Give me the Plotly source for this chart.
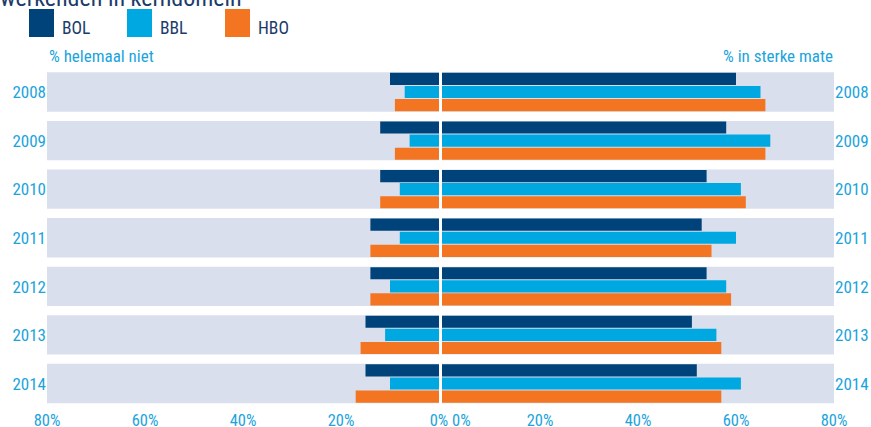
import plotly.graph_objects as go

# data
years = ["2008", "2009", "2010", "2011", "2012", "2013", "2014"]
series = ["BOL", "BBL", "HBO"]

# % helemaal niet (left side)
niet_bol = [10, 12, 12, 14, 14, 15, 15]
niet_bbl = [7, 6, 8, 8, 10, 11, 10]
niet_hbo = [9, 9, 12, 14, 14, 16, 17]

# % in sterke mate (right side)
sterk_bol = [60, 58, 54, 53, 54, 51, 52]
sterk_bbl = [65, 67, 61, 60, 58, 56, 61]
sterk_hbo = [66, 66, 62, 55, 59, 57, 57]

axis_max = 80
tick_vals = [0, 20, 40, 60, 80]
tick_text = ["0%", "20%", "40%", "60%", "80%"]

colors = {"BOL": "#00427a", "BBL": "#00a8e2", "HBO": "#f47521"}
panel_gray = "#d9dfec"
label_blue = "#1ba4dc"
navy = "#1d3b6a"
FONT = ("Roboto Condensed, DejaVu Sans Condensed, Liberation Sans Narrow, "
        "Arial Narrow, Liberation Sans, sans-serif")

W, H = 871, 427
offsets = {"BOL": -0.40, "BBL": -0.13, "HBO": 0.14}
bar_w = 0.25

fig = go.Figure()

for xa, ya in (("x", "y"), ("x2", "y2")):
    fig.add_trace(go.Bar(
        y=years, x=[axis_max] * len(years), orientation="h",
        marker=dict(color=panel_gray, line=dict(width=0)),
        offset=-0.41, width=0.81, xaxis=xa, yaxis=ya,
        showlegend=False, hoverinfo="skip"))

left = {"BOL": niet_bol, "BBL": niet_bbl, "HBO": niet_hbo}
right = {"BOL": sterk_bol, "BBL": sterk_bbl, "HBO": sterk_hbo}
for s in series:
    fig.add_trace(go.Bar(
        y=years, x=left[s], orientation="h", name=s,
        marker=dict(color=colors[s], line=dict(width=0)),
        offset=offsets[s], width=bar_w, xaxis="x", yaxis="y",
        showlegend=False))
    fig.add_trace(go.Bar(
        y=years, x=right[s], orientation="h", name=s,
        marker=dict(color=colors[s], line=dict(width=0)),
        offset=offsets[s], width=bar_w, xaxis="x2", yaxis="y2",
        showlegend=False))

left_dom = [47 / W, 439 / W]
right_dom = [442 / W, 834 / W]

tick_font = dict(family=FONT, size=16.5, color=label_blue)
xcommon = dict(showgrid=False, zeroline=False, showline=False, ticks="",
               tickfont=tick_font, fixedrange=True)
ycommon = dict(type="category", categoryorder="array", categoryarray=years,
               range=[6.5, -0.5], showgrid=False, zeroline=False,
               showline=False, ticks="", domain=[0, 1],
               tickfont=dict(family=FONT, size=17, color=label_blue))

fig.update_layout(
    width=W, height=H,
    margin=dict(l=0, r=0, t=68, b=19, autoexpand=False),
    paper_bgcolor="white", plot_bgcolor="white",
    barmode="overlay",
    font=dict(family=FONT),
    xaxis=dict(domain=left_dom, range=[axis_max, 0], anchor="y",
               tickvals=tick_vals, ticktext=tick_text, **xcommon),
    # the right-hand 0% sits a little to the right, drawn as annotation below
    xaxis2=dict(domain=right_dom, range=[0, axis_max], anchor="y2",
                tickvals=tick_vals[1:], ticktext=tick_text[1:], **xcommon),
    yaxis=dict(anchor="x", side="left", **ycommon),
    yaxis2=dict(anchor="x2", side="right", **ycommon),
)

fig.add_annotation(xref="x2", yref="paper", x=tick_vals[0], y=0,
                   xanchor="left", yanchor="top", xshift=8, yshift=-1,
                   showarrow=False, text=tick_text[0], font=tick_font)

# partly cut-off heading at the very top
fig.add_annotation(xref="paper", yref="paper", x=-0.002, y=1.16,
                   xanchor="left", yanchor="bottom", showarrow=False,
                   text="werkenden in kerndomein",
                   font=dict(family=FONT, size=24, color=navy))

# legend
legend_x = [29, 127, 225]
for s, lx in zip(series, legend_x):
    fig.add_shape(type="rect", xref="paper", yref="paper",
                  x0=lx / W, x1=(lx + 25) / W,
                  y0=(408 - 37) / 340, y1=(408 - 9) / 340,
                  fillcolor=colors[s], line=dict(width=0))
    fig.add_annotation(xref="paper", yref="paper", x=(lx + 31) / W,
                       y=(408 - 28) / 340, xanchor="left", yanchor="middle",
                       showarrow=False, text=s,
                       font=dict(family=FONT, size=17.5, color=navy))

fig.add_annotation(xref="paper", yref="paper", x=47 / W, y=(408 - 56) / 340,
                   xanchor="left", yanchor="middle", showarrow=False,
                   text="% helemaal niet",
                   font=dict(family=FONT, size=17, color=label_blue))
fig.add_annotation(xref="paper", yref="paper", x=835 / W, y=(408 - 56) / 340,
                   xanchor="right", yanchor="middle", showarrow=False,
                   text="% in sterke mate",
                   font=dict(family=FONT, size=17, color=label_blue))

# the page's default body margin would shift the figure by 8px
fig.write_html("out.html", config={"displayModeBar": False},
               post_script="document.body.style.margin='0';")
